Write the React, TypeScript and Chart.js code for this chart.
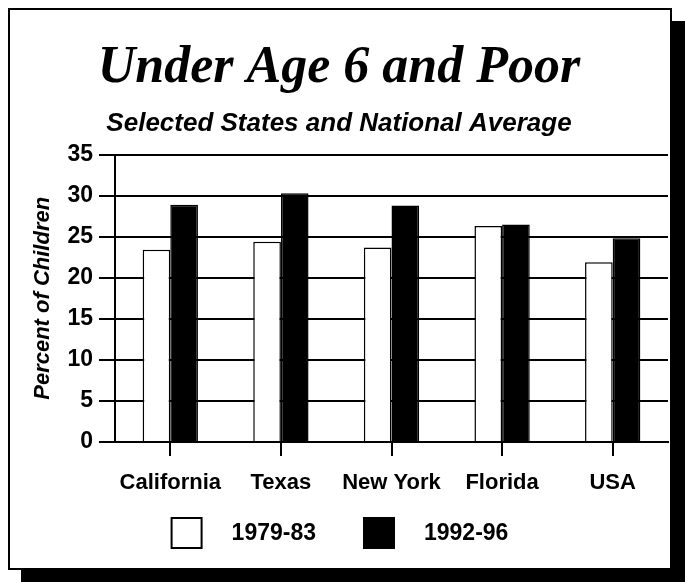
import React, { useEffect, useRef } from "react";
import { Chart, registerables } from "chart.js";

Chart.register(...registerables);

const categories = ["California", "Texas", "New York", "Florida", "USA"];
const seriesLabels = ["1979-83", "1992-96"];
const values1979 = [23.4, 24.4, 23.7, 26.3, 21.9];
const values1992 = [28.9, 30.3, 28.8, 26.5, 24.8];
const yTickValues = [0, 5, 10, 15, 20, 25, 30, 35];

const titleText = "Under Age 6 and Poor";
const subtitleText = "Selected States and National Average";
const yTitleText = "Percent of Children";

const SANS = "'Liberation Sans', Arial, sans-serif";
const SERIF = "'Liberation Serif', 'Times New Roman', serif";

const boxLegend = {
  id: "boxLegend",
  afterDraw(chart: any) {
    const ctx = chart.ctx as CanvasRenderingContext2D;
    ctx.save();
    ctx.font = `bold 23px ${SANS}`;
    const box = 30;
    const gapText = 30;
    const gapItem = 48;
    const items = chart.data.datasets.map((ds: any) => ({
      label: ds.label as string,
      fill: ds.backgroundColor as string,
      w: box + gapText + ctx.measureText(ds.label).width,
    }));
    const total =
      items.reduce((a: number, i: any) => a + i.w, 0) + gapItem * (items.length - 1);
    let x = (chart.width - total) / 2;
    const cy = chart.chartArea.bottom + 91;
    items.forEach((it: any) => {
      ctx.fillStyle = it.fill;
      ctx.fillRect(x, cy - box / 2, box, box);
      ctx.strokeStyle = "#000";
      ctx.lineWidth = 2;
      ctx.strokeRect(x, cy - box / 2, box, box);
      ctx.fillStyle = "#000";
      ctx.textBaseline = "middle";
      ctx.textAlign = "left";
      ctx.fillText(it.label, x + box + gapText, cy + 1);
      x += it.w + gapItem;
    });
    ctx.restore();
  },
};

export default function App() {
  const ref = useRef<HTMLCanvasElement>(null);

  useEffect(() => {
    if (!ref.current) return;
    const chart = new Chart(ref.current, {
      type: "bar",
      data: {
        labels: categories,
        datasets: [
          {
            label: seriesLabels[0],
            data: values1979,
            backgroundColor: "#ffffff",
            borderColor: "#000000",
            borderWidth: 1.5,
            categoryPercentage: 0.5,
            barPercentage: 1,
          },
          {
            label: seriesLabels[1],
            data: values1992,
            backgroundColor: "#000000",
            borderColor: "#000000",
            borderWidth: 1.5,
            categoryPercentage: 0.5,
            barPercentage: 1,
          },
        ],
      },
      options: {
        animation: false,
        responsive: false,
        maintainAspectRatio: false,
        layout: { padding: { left: 0, right: 2, top: 0, bottom: 66 } },
        plugins: {
          legend: { display: false },
          tooltip: { enabled: false },
          title: {
            display: true,
            text: titleText,
            color: "#000",
            font: { family: SERIF, size: 52, style: "italic", weight: "bold", lineHeight: 1.2 },
            padding: { top: 27, bottom: 0 },
          },
          subtitle: {
            display: true,
            text: subtitleText,
            color: "#000",
            font: { family: SANS, size: 26, style: "italic", weight: "bold", lineHeight: 1.2 },
            padding: { top: 9, bottom: 15 },
          },
        },
        scales: {
          x: {
            offset: true,
            grid: {
              display: true,
              drawOnChartArea: false,
              drawTicks: true,
              tickLength: 14,
              offset: false,
              color: "#000",
              lineWidth: 2,
            },
            border: { display: true, color: "#000", width: 2 },
            ticks: {
              color: "#000",
              font: { family: SANS, size: 22, weight: "bold" },
              padding: 14,
              maxRotation: 0,
              autoSkip: false,
            },
            afterFit: (s: any) => {
              s.height = 60;
            },
          },
          y: {
            min: 0,
            max: 35,
            afterBuildTicks: (s: any) => {
              s.ticks = yTickValues.map((v) => ({ value: v }));
            },
            grid: {
              color: "#000",
              lineWidth: 2,
              tickLength: 16,
              drawTicks: true,
            },
            border: { display: true, color: "#000", width: 2 },
            ticks: {
              color: "#000",
              font: { family: SANS, size: 23, weight: "bold" },
              padding: 6,
            },
            title: {
              display: true,
              text: yTitleText,
              color: "#000",
              font: { family: SANS, size: 22, style: "italic", weight: "bold", lineHeight: 1.2 },
              padding: { top: 20, bottom: 0 },
            },
            afterFit: (s: any) => {
              s.width = 105;
            },
          },
        },
      },
      plugins: [boxLegend],
    });
    return () => chart.destroy();
  }, []);

  return (
    <div style={{ position: "fixed", left: 8, top: 8, width: 690, height: 590 }}>
      <div
        style={{
          position: "absolute",
          left: 13,
          top: 13,
          width: 664,
          height: 562,
          background: "#000",
        }}
      />
      <div
        style={{
          position: "absolute",
          left: 0,
          top: 0,
          width: 660,
          height: 558,
          border: "2px solid #000",
          background: "#fff",
        }}
      >
        <canvas ref={ref} width={660} height={558} style={{ display: "block" }} />
      </div>
    </div>
  );
}
